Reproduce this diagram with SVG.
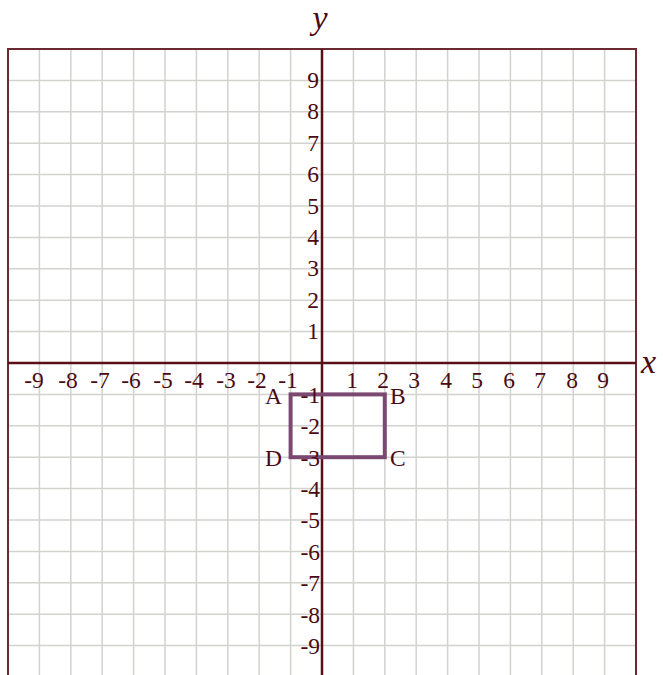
<svg xmlns="http://www.w3.org/2000/svg" width="663" height="675" viewBox="0 0 663 675">
<style>
.g{stroke:#d2d2cf;stroke-width:1.5;fill:none}
.ax{stroke:#5a0f16;stroke-width:2.5;fill:none}
.bd{stroke:#6b2a32;stroke-width:2;fill:none}
.t{font-family:"Liberation Serif",serif;font-size:23.5px;fill:#4a0a12}
.tx{text-anchor:middle}
.ty{text-anchor:end}
.v{font-family:"Liberation Serif",serif;font-style:italic;font-size:34px;fill:#4a0a12}
.r{stroke:#7a4870;stroke-width:4;fill:none}
</style>
<rect width="663" height="675" fill="#ffffff"/>
<g id="grid">
<path class="g" d="M39.4 49V675M70.8 49V675M102.2 49V675M133.6 49V675M165 49V675M196.4 49V675M227.8 49V675M259.2 49V675M290.6 49V675M353.4 49V675M384.8 49V675M416.2 49V675M447.6 49V675M479 49V675M510.4 49V675M541.8 49V675M573.2 49V675M604.6 49V675"/>
<path class="g" d="M8 80.4H636M8 111.8H636M8 143.2H636M8 174.6H636M8 206H636M8 237.4H636M8 268.8H636M8 300.2H636M8 331.6H636M8 394.4H636M8 425.8H636M8 457.2H636M8 488.6H636M8 520H636M8 551.4H636M8 582.8H636M8 614.2H636M8 645.6H636"/>
</g>
<g id="border">
<path class="bd" d="M8 675V49H636V675"/>
</g>
<g id="axes">
<path class="ax" d="M8 363H636"/>
<path class="ax" d="M322 49V675"/>
</g>
<g id="rectangle">
<rect class="r" x="290.6" y="394.4" width="94.2" height="62.8"/>
</g>
<g id="xlabels" class="t tx">
<text x="34" y="388">-9</text>
<text x="68" y="388">-8</text>
<text x="100" y="388">-7</text>
<text x="131" y="388">-6</text>
<text x="163" y="388">-5</text>
<text x="194" y="388">-4</text>
<text x="226" y="388">-3</text>
<text x="257" y="388">-2</text>
<text x="288" y="388">-1</text>
<text x="352" y="388">1</text>
<text x="383" y="388">2</text>
<text x="414" y="388">3</text>
<text x="446" y="388">4</text>
<text x="477" y="388">5</text>
<text x="509" y="388">6</text>
<text x="540" y="388">7</text>
<text x="572" y="388">8</text>
<text x="603" y="388">9</text>
</g>
<g id="ylabels" class="t ty">
<text x="319" y="88">9</text>
<text x="319" y="119">8</text>
<text x="319" y="151">7</text>
<text x="319" y="182">6</text>
<text x="319" y="214">5</text>
<text x="319" y="245">4</text>
<text x="319" y="276">3</text>
<text x="319" y="308">2</text>
<text x="319" y="339">1</text>
<text x="320" y="403">-1</text>
<text x="320" y="434">-2</text>
<text x="320" y="466">-3</text>
<text x="320" y="497">-4</text>
<text x="320" y="528">-5</text>
<text x="320" y="560">-6</text>
<text x="320" y="591">-7</text>
<text x="320" y="623">-8</text>
<text x="320" y="654">-9</text>
</g>
<g id="points" class="t">
<text x="282" y="404" text-anchor="end">A</text>
<text x="390" y="404">B</text>
<text x="390" y="466">C</text>
<text x="282" y="466" text-anchor="end">D</text>
</g>
<g id="axis-names">
<text class="v" x="320" y="29" text-anchor="middle">y</text>
<text class="v" x="641" y="373">x</text>
</g>
</svg>
